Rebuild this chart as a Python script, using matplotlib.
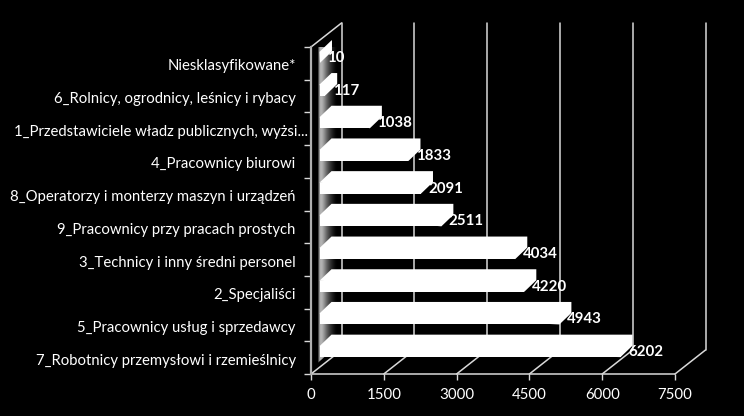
import matplotlib
matplotlib.use("Agg")
import matplotlib.pyplot as plt
import numpy as np
from matplotlib.transforms import Affine2D, IdentityTransform
from matplotlib.patches import Polygon

categories = ["7_Robotnicy przemysłowi i rzemieślnicy", "5_Pracownicy usług i sprzedawcy",
              "2_Specjaliści", "3_Technicy i inny średni personel",
              "9_Pracownicy przy pracach prostych", "8_Operatorzy i monterzy maszyn i urządzeń",
              "4_Pracownicy biurowi", "1_Przedstawiciele władz publicznych, wyżsi...",
              "6_Rolnicy, ogrodnicy, leśnicy i rybacy", "Niesklasyfikowane*"]
values = [6202, 4943, 4220, 4034, 2511, 2091, 1833, 1038, 117, 10]
xticks = [0, 1500, 3000, 4500, 6000, 7500]

W, H = 744, 416
plt.rcParams['font.family'] = ['Lato', 'DejaVu Sans']
fig = plt.figure(figsize=(W/100, H/100), dpi=100, facecolor='black')
ax = fig.add_axes([311/W, 1-374/H, 364/W, 327/H], facecolor='none')
ax.set_xlim(0, 7500)
ax.set_ylim(-0.5, 9.5)
for s in ax.spines.values():
    s.set_visible(False)

DX, DY = 30.5, 24.0     # depth of the 3-D box, px
BX, BY = 12.0, 11.5     # depth of a bar, px
GREY = '#d9d9d9'
back = ax.transData + Affine2D().translate(DX, DY)
line_kw = dict(color=GREY, lw=1.1, clip_on=False, solid_capstyle='round')

# back wall gridlines and floor
for t in xticks:
    ax.plot([t, t], [-0.5, 9.5], transform=back, **line_kw, zorder=1)
    x0, y0 = ax.transData.transform((t, -0.5))
    ax.plot([x0, x0+DX], [y0, y0+DY], transform=None, **line_kw, zorder=1)
x0, y0 = ax.transData.transform((0, 9.5))
ax.plot([x0, x0+DX], [y0, y0+DY], transform=None, **line_kw, zorder=1)
ax.plot([0, 7500], [-0.5, -0.5], **line_kw, zorder=5)
ax.plot([0, 0], [-0.5, 9.5], color='#b0b0b0', lw=1.6, clip_on=False, zorder=5)

# shaded strip on the side wall, behind the bars
xb, yb = ax.transData.transform((0, -0.5))
xt, yt = ax.transData.transform((0, 9.5))
ramp = np.array([[0.0, 0.55, 0.72, 0.68, 0.6, 0.5, 0.4, 0.32, 0.24, 0.17, 0.11, 0.06, 0.02, 0.0]])
im = ax.imshow(ramp, cmap='gray', vmin=0, vmax=1, aspect='auto', interpolation='bilinear',
               extent=(xb+5.5, xb+26, yb+10, yt+18), transform=None, zorder=2)
im.set_clip_path(Polygon([[xb+5.5, yb+10], [xb+26, yb+28], [xb+26, yt+18], [xb+5.5, yt+2]],
                         closed=True, transform=IdentityTransform()))
ax.set_xlim(0, 7500)
ax.set_ylim(-0.5, 9.5)

# bars
pos = np.arange(len(values))
step = ax.transData.transform((0, 1))[1] - ax.transData.transform((0, 0))[1]
bar_h = 11.0 / step
front = ax.transData + Affine2D().translate(8.5, 6.0)
ax.barh(pos, values, height=bar_h, color='white', transform=front, clip_on=False, zorder=3)
for p, v in zip(pos, values):
    x, y = front.transform((v, p))
    xl = front.transform((0, p))[0]
    h = 5.5
    ax.add_patch(Polygon([[xl, y+h], [xl+BX, y+h+BY], [x+BX, y+h+BY], [x+BX, y-h+BY], [x, y-h]],
                         closed=True, fc='white', ec='none', transform=None, zorder=3, clip_on=False))
    ax.text(x+7.5, y-0.5, str(v), transform=None, color='white', fontweight='bold', fontsize=10.8,
            ha='left', va='center', zorder=6, clip_on=False)

# ticks
ax.set_xticks(xticks)
ax.set_xticklabels([str(t) for t in xticks], fontsize=10.8, color='white')
ax.tick_params(axis='x', length=4, width=1, color=GREY, pad=6)
ax.set_yticks(pos)
ax.set_yticklabels(categories, fontsize=10.7, color='white', va='center')
ax.tick_params(axis='y', which='major', length=0, pad=11)
ax.set_yticks(np.arange(-0.5, 10), minor=True)
ax.tick_params(axis='y', which='minor', length=5, width=1, color=GREY)
for lab in ax.get_yticklabels():
    # the truncated label runs past the others, up to the axis ticks
    shift = 12.5 if lab.get_text().endswith('...') else 0
    lab.set_transform(lab.get_transform() + Affine2D().translate(shift, -3))

fig.savefig('out.png', dpi=100, facecolor='black')
